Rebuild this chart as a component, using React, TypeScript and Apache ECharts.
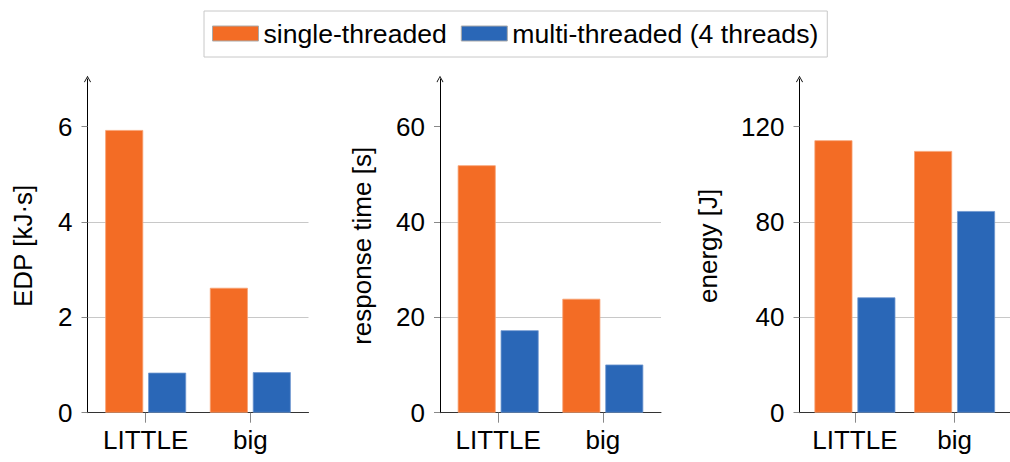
import React, { useEffect, useRef } from "react";
import * as echarts from "echarts";

// Cluster types on the x axis
const categories = ["LITTLE", "big"];

// Energy-delay product [kJ·s]
const edpSingle = [5.93, 2.62];
const edpMulti = [0.84, 0.85];

// Response time [s]
const timeSingle = [51.9, 23.9];
const timeMulti = [17.3, 10.1];

// Energy [J]
const energySingle = [114.3, 109.8];
const energyMulti = [48.4, 84.6];

const seriesNames = ["single-threaded", "multi-threaded (4 threads)"];
const seriesColors = ["#F36C25", "#2A67B7"];
const seriesEdge = ["#F8A274", "#6E97CF"];

const FONT = "Liberation Sans, Arial, Helvetica, sans-serif";
const FS = 26;

const ARROW = "path://M5,0 L10,9 L8.8,9.6 L5,2.4 L1.2,9.6 L0,9 Z";

type Panel = {
  name: string;
  left: number;
  max: number;
  interval: number;
  nameGap: number;
  single: number[];
  multi: number[];
};

const panels: Panel[] = [
  { name: "EDP [kJ·s]", left: 87.5, max: 7, interval: 2, nameGap: 52, single: edpSingle, multi: edpMulti },
  { name: "response time [s]", left: 440, max: 70, interval: 20, nameGap: 65, single: timeSingle, multi: timeMulti },
  { name: "energy [J]", left: 799.5, max: 140, interval: 40, nameGap: 79, single: energySingle, multi: energyMulti },
];

const ticksFor = (max: number, step: number) => {
  const out: number[] = [];
  for (let v = 0; v < max; v += step) out.push(v);
  return out;
};

export default function App() {
  const ref = useRef<HTMLDivElement>(null);

  useEffect(() => {
    if (!ref.current) return;
    const chart = echarts.init(ref.current, null, { renderer: "svg" });

    const grids = panels.map((p) => ({
      left: p.left,
      top: 79,
      width: 221,
      height: 333.7,
      containLabel: false,
    }));

    const xAxes = panels.map((_, i) => ({
      type: "value" as const,
      gridIndex: i,
      min: -0.556,
      max: 1.556,
      splitLine: { show: false },
      axisLine: { show: true, onZero: false, lineStyle: { color: "#333", width: 1 } },
      axisTick: {
        show: true,
        length: 10,
        customValues: [0, 1],
        lineStyle: { color: "#888", width: 1 },
      },
      axisLabel: {
        customValues: [0, 1],
        formatter: (v: number) => categories[Math.round(v)] ?? "",
        color: "#000",
        fontSize: FS,
        fontFamily: FONT,
        margin: 14,
      },
    }));

    const yAxes = panels.map((p, i) => {
      const vals = ticksFor(p.max, p.interval);
      return {
        type: "value" as const,
        gridIndex: i,
        min: 0,
        max: p.max,
        interval: p.interval,
        name: p.name,
        nameLocation: "middle" as const,
        nameGap: p.nameGap,
        nameTextStyle: { color: "#000", fontSize: FS, fontFamily: FONT },
        axisLine: {
          show: true,
          onZero: false,
          symbol: ["none", ARROW],
          symbolSize: [7, 7],
          lineStyle: { color: "#000", width: 1 },
        },
        axisTick: {
          show: true,
          length: 6,
          customValues: vals,
          lineStyle: { color: "#888", width: 1 },
        },
        axisLabel: {
          customValues: vals,
          color: "#000",
          fontSize: FS,
          fontFamily: FONT,
          margin: 15,
        },
        splitLine: {
          show: true,
          showMaxLine: false,
          lineStyle: { color: "#c8c8c8", width: 1 },
        },
      };
    });

    const series: any[] = [];
    panels.forEach((p, i) => {
      [p.single, p.multi].forEach((vals, k) => {
        series.push({
          type: "bar",
          name: seriesNames[k],
          xAxisIndex: i,
          yAxisIndex: i,
          barWidth: 38,
          barGap: "13%",
          data: vals.map((v, j) => [j, v]),
          itemStyle: {
            color: seriesColors[k],
            borderColor: seriesEdge[k],
            borderWidth: 0.8,
          },
        });
      });
    });

    chart.setOption({
      animation: false,
      textStyle: { fontFamily: FONT },
      legend: {
        data: seriesNames,
        left: 204,
        top: 11,
        orient: "horizontal",
        icon: "rect",
        itemWidth: 46,
        itemHeight: 15,
        itemGap: 14,
        padding: [9, 9, 10, 8],
        borderColor: "#c8c8c8",
        borderWidth: 1,
        selectedMode: false,
        textStyle: { color: "#000", fontSize: 26.6, fontFamily: FONT, lineHeight: 26 },
        itemStyle: { borderColor: "#aaa", borderWidth: 1 },
      },
      grid: grids,
      xAxis: xAxes,
      yAxis: yAxes,
      series,
    });

    return () => chart.dispose();
  }, []);

  return (
    <div
      ref={ref}
      style={{ position: "fixed", left: 0, top: 0, width: 1010, height: 462, background: "#fff" }}
    />
  );
}
